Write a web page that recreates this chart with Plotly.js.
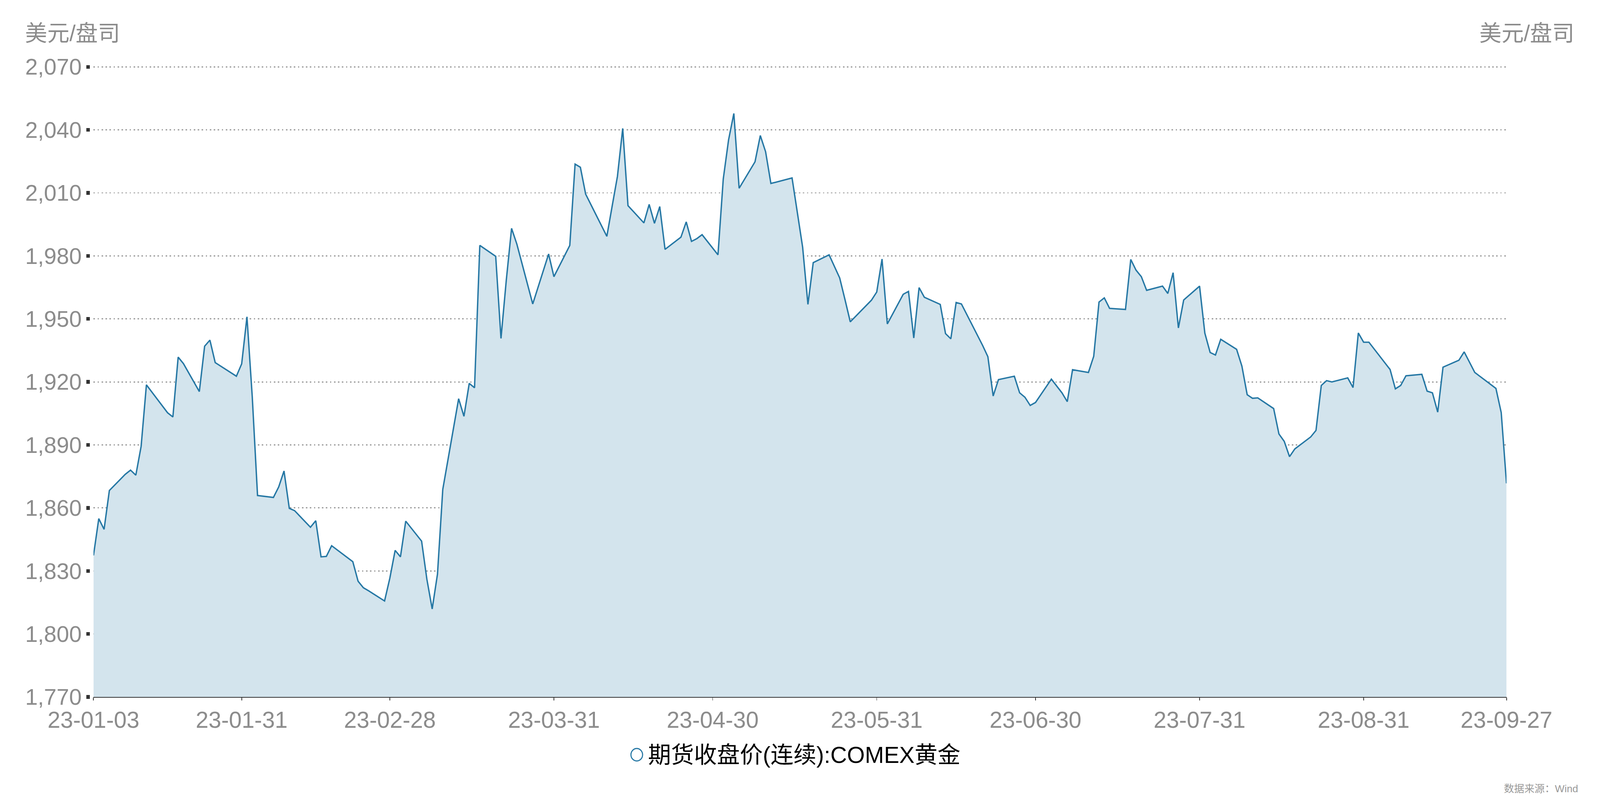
<!DOCTYPE html>
<html>
<head>
<meta charset="utf-8">
<script src="https://cdn.plot.ly/plotly-3.0.1.min.js"></script>
<style>
  html, body { margin: 0; padding: 0; background: #fff; overflow: hidden; }
  #chart { position: absolute; left: 0; top: 0; }
</style>
</head>
<body>
<div id="chart"></div>
<script>
// COMEX gold, continuous futures close (USD/oz)
const tradeDates = [
    '2023-01-03','2023-01-04','2023-01-05','2023-01-06','2023-01-09','2023-01-10','2023-01-11','2023-01-12','2023-01-13',
    '2023-01-17','2023-01-18','2023-01-19','2023-01-20','2023-01-23','2023-01-24','2023-01-25','2023-01-26','2023-01-27',
    '2023-01-30','2023-01-31','2023-02-01','2023-02-02','2023-02-03','2023-02-06','2023-02-07','2023-02-08','2023-02-09',
    '2023-02-10','2023-02-13','2023-02-14','2023-02-15','2023-02-16','2023-02-17','2023-02-21','2023-02-22','2023-02-23',
    '2023-02-24','2023-02-27','2023-02-28','2023-03-01','2023-03-02','2023-03-03','2023-03-06','2023-03-07','2023-03-08',
    '2023-03-09','2023-03-10','2023-03-13','2023-03-14','2023-03-15','2023-03-16','2023-03-17','2023-03-20','2023-03-21',
    '2023-03-22','2023-03-23','2023-03-24','2023-03-27','2023-03-28','2023-03-29','2023-03-30','2023-03-31','2023-04-03',
    '2023-04-04','2023-04-05','2023-04-06','2023-04-10','2023-04-11','2023-04-12','2023-04-13','2023-04-14','2023-04-17',
    '2023-04-18','2023-04-19','2023-04-20','2023-04-21','2023-04-24','2023-04-25','2023-04-26','2023-04-27','2023-04-28',
    '2023-05-01','2023-05-02','2023-05-03','2023-05-04','2023-05-05','2023-05-08','2023-05-09','2023-05-10','2023-05-11',
    '2023-05-12','2023-05-15','2023-05-16','2023-05-17','2023-05-18','2023-05-19','2023-05-22','2023-05-23','2023-05-24',
    '2023-05-25','2023-05-26','2023-05-30','2023-05-31','2023-06-01','2023-06-02','2023-06-05','2023-06-06','2023-06-07',
    '2023-06-08','2023-06-09','2023-06-12','2023-06-13','2023-06-14','2023-06-15','2023-06-16','2023-06-20','2023-06-21',
    '2023-06-22','2023-06-23','2023-06-26','2023-06-27','2023-06-28','2023-06-29','2023-06-30','2023-07-03','2023-07-05',
    '2023-07-06','2023-07-07','2023-07-10','2023-07-11','2023-07-12','2023-07-13','2023-07-14','2023-07-17','2023-07-18',
    '2023-07-19','2023-07-20','2023-07-21','2023-07-24','2023-07-25','2023-07-26','2023-07-27','2023-07-28','2023-07-31',
    '2023-08-01','2023-08-02','2023-08-03','2023-08-04','2023-08-07','2023-08-08','2023-08-09','2023-08-10','2023-08-11',
    '2023-08-14','2023-08-15','2023-08-16','2023-08-17','2023-08-18','2023-08-21','2023-08-22','2023-08-23','2023-08-24',
    '2023-08-25','2023-08-28','2023-08-29','2023-08-30','2023-08-31','2023-09-01','2023-09-05','2023-09-06','2023-09-07',
    '2023-09-08','2023-09-11','2023-09-12','2023-09-13','2023-09-14','2023-09-15','2023-09-18','2023-09-19','2023-09-20',
    '2023-09-21','2023-09-22','2023-09-25','2023-09-26','2023-09-27'
];

const closePrices = [
    1837.4, 1854.9, 1849.8, 1868.3, 1876.0, 1878.0, 1875.6, 1889.3, 1918.6,
    1905.3, 1903.3, 1931.8, 1928.7, 1915.4, 1937.0, 1939.9, 1929.2, 1927.6,
    1922.7, 1928.6, 1951.0, 1913.0, 1865.9, 1865.0, 1870.0, 1877.6, 1859.8,
    1858.7, 1850.8, 1853.9, 1836.7, 1836.9, 1842.0, 1834.4, 1825.1, 1822.0,
    1820.5, 1815.7, 1826.6, 1839.8, 1836.7, 1853.7, 1844.2, 1826.0, 1811.9,
    1828.5, 1868.8, 1912.0, 1903.6, 1919.3, 1917.2, 1985.0, 1979.8, 1940.7,
    1968.4, 1993.1, 1985.6, 1957.1, 1965.1, 1973.0, 1980.9, 1970.1, 1985.0,
    2023.7, 2022.2, 2009.4, 1989.3, 2003.6, 2017.8, 2040.7, 2003.9, 1995.7,
    2004.5, 1995.5, 2003.5, 1983.1, 1988.9, 1996.2, 1986.9, 1988.2, 1990.1,
    1980.5, 2016.6, 2035.2, 2047.8, 2012.2, 2024.8, 2037.3, 2029.6, 2014.5,
    2015.1, 2017.1, 2000.6, 1984.1, 1956.9, 1976.8, 1980.5, 1975.0, 1969.5,
    1959.2, 1948.6, 1958.9, 1962.8, 1978.5, 1947.6, 1961.7, 1963.1, 1940.9,
    1964.9, 1960.3, 1956.9, 1943.0, 1940.5, 1957.8, 1957.1, 1937.4, 1932.0,
    1913.3, 1921.1, 1922.7, 1914.8, 1912.7, 1908.8, 1910.2, 1921.3, 1914.8,
    1910.6, 1925.8, 1924.5, 1932.2, 1958.0, 1960.0, 1955.0, 1954.5, 1978.3,
    1973.2, 1970.1, 1963.6, 1965.6, 1962.1, 1972.0, 1945.7, 1959.0, 1965.6,
    1943.2, 1934.0, 1932.8, 1940.3, 1935.5, 1927.5, 1913.9, 1912.2, 1912.4,
    1907.3, 1895.2, 1891.7, 1884.4, 1888.1, 1893.8, 1896.9, 1918.3, 1920.6,
    1920.0, 1921.9, 1917.3, 1943.3, 1938.9, 1938.9, 1925.9, 1916.7, 1918.3,
    1922.9, 1923.6, 1915.6, 1914.8, 1905.6, 1927.0, 1930.3, 1934.3, 1929.4,
    1924.5, 1922.6, 1916.9, 1905.4, 1871.7
];

const tickDates = ['2023-01-03','2023-01-31','2023-02-28','2023-03-31','2023-04-30',
                   '2023-05-31','2023-06-30','2023-07-31','2023-08-31','2023-09-27'];
const tickLabels = ['23-01-03','23-01-31','23-02-28','23-03-31','23-04-30',
                    '23-05-31','23-06-30','23-07-31','23-08-31','23-09-27'];

const seriesName = '期货收盘价(连续):COMEX黄金';
const unitLabel = '美元/盘司';
const sourceNote = '数据来源：Wind';

const yMin = 1770, yMax = 2070, yStep = 30;

// design is laid out on a 4390 x 2072 page, then scaled to the real viewport
const BASE_W = 4390, BASE_H = 2072;
const W = window.innerWidth || BASE_W;
const H = window.innerHeight || BASE_H;
const sx = W / BASE_W, sy = H / BASE_H;
const s = Math.min(sx, sy);

const ML = 246 * sx, MR = 246 * sx, MT = 168 * sy, MB = 287 * sy;
const GAP = 10 * sx; // space between plot edge and the y tick marks
const plotW = W - ML - MR;
const plotH = H - MT - MB;
const px = x => (x * sx - ML) / plotW;          // design x -> paper fraction
const py = y => (H - MB - y * sy) / plotH;      // design y -> paper fraction

// a hair of headroom so the 2,070 grid line is not clipped at the top edge
const yTop = yMax + 0.6;

const FONT = 'Liberation Sans, Arial, Noto Sans CJK SC, sans-serif';
const GREY = '#8c8c8c';
const LINE = '#2577a4';
const FILL = 'rgb(211,228,237)';

document.getElementById('chart').style.width = W + 'px';
document.getElementById('chart').style.height = H + 'px';

const yCommon = {
    range: [yMin, yTop],
    tick0: yMin,
    dtick: yStep,
    tickformat: ',d',
    ticks: 'outside',
    ticklen: 10 * s,
    tickwidth: 10 * s,
    tickcolor: '#333',
    showline: false,
    zeroline: false,
    fixedrange: true,
    tickfont: {family: FONT, size: 62 * s, color: GREY}
};

const data = [{
    x: tradeDates,
    y: closePrices,
    type: 'scatter',
    mode: 'lines',
    line: {color: LINE, width: 3.8 * s},
    fill: 'tozeroy',
    fillcolor: FILL,
    showlegend: false,
    hoverinfo: 'skip'
}];

const layout = {
    width: W,
    height: H,
    autosize: false,
    margin: {l: ML, r: MR, t: MT, b: MB, pad: 0},
    paper_bgcolor: '#fff',
    plot_bgcolor: '#fff',
    showlegend: false,
    xaxis: {
        type: 'date',
        domain: [GAP / plotW, 1 - GAP / plotW],
        range: [tradeDates[0], tradeDates[tradeDates.length - 1]],
        tickmode: 'array',
        tickvals: tickDates,
        ticktext: tickLabels,
        ticks: 'outside',
        ticklen: 7 * s,
        tickwidth: 2 * s,
        tickcolor: '#333',
        showline: true,
        linecolor: '#333',
        linewidth: 2.5 * s,
        showgrid: false,
        zeroline: false,
        fixedrange: true,
        tickfont: {family: FONT, size: 63 * s, color: GREY}
    },
    yaxis: Object.assign({}, yCommon, {
        anchor: 'free',
        position: 0,
        side: 'left',
        showgrid: true,
        gridcolor: '#9a9a9a',
        gridwidth: 3 * s,
        griddash: (4 * s).toFixed(2) + 'px,' + (7 * s).toFixed(2) + 'px'
    }),
    yaxis2: Object.assign({}, yCommon, {
        anchor: 'free',
        position: 1,
        side: 'right',
        overlaying: 'y',
        showgrid: false
    }),
    shapes: [{
        // legend marker: open circle
        type: 'circle',
        xref: 'paper', yref: 'paper',
        x0: px(1731), x1: px(1763),
        y0: py(1949), y1: py(1917),
        line: {color: LINE, width: 3 * s},
        fillcolor: 'rgba(0,0,0,0)'
    }],
    annotations: [
        {
            text: unitLabel, xref: 'paper', yref: 'paper',
            x: px(66), y: py(85), xanchor: 'left', yanchor: 'middle',
            showarrow: false, font: {family: FONT, size: 61 * s, color: GREY}
        },
        {
            text: unitLabel, xref: 'paper', yref: 'paper',
            x: px(4322), y: py(85), xanchor: 'right', yanchor: 'middle',
            showarrow: false, font: {family: FONT, size: 61 * s, color: GREY}
        },
        {
            text: seriesName, xref: 'paper', yref: 'paper',
            x: px(1776), y: py(1933), xanchor: 'left', yanchor: 'middle',
            showarrow: false, font: {family: FONT, size: 63 * s, color: '#000'}
        },
        {
            text: sourceNote, xref: 'paper', yref: 'paper',
            x: px(4333), y: py(2020), xanchor: 'right', yanchor: 'middle',
            showarrow: false, font: {family: FONT, size: 28 * s, color: '#999'}
        }
    ]
};

Plotly.newPlot('chart', data, layout, {staticPlot: true, displayModeBar: false});
</script>
</body>
</html>
